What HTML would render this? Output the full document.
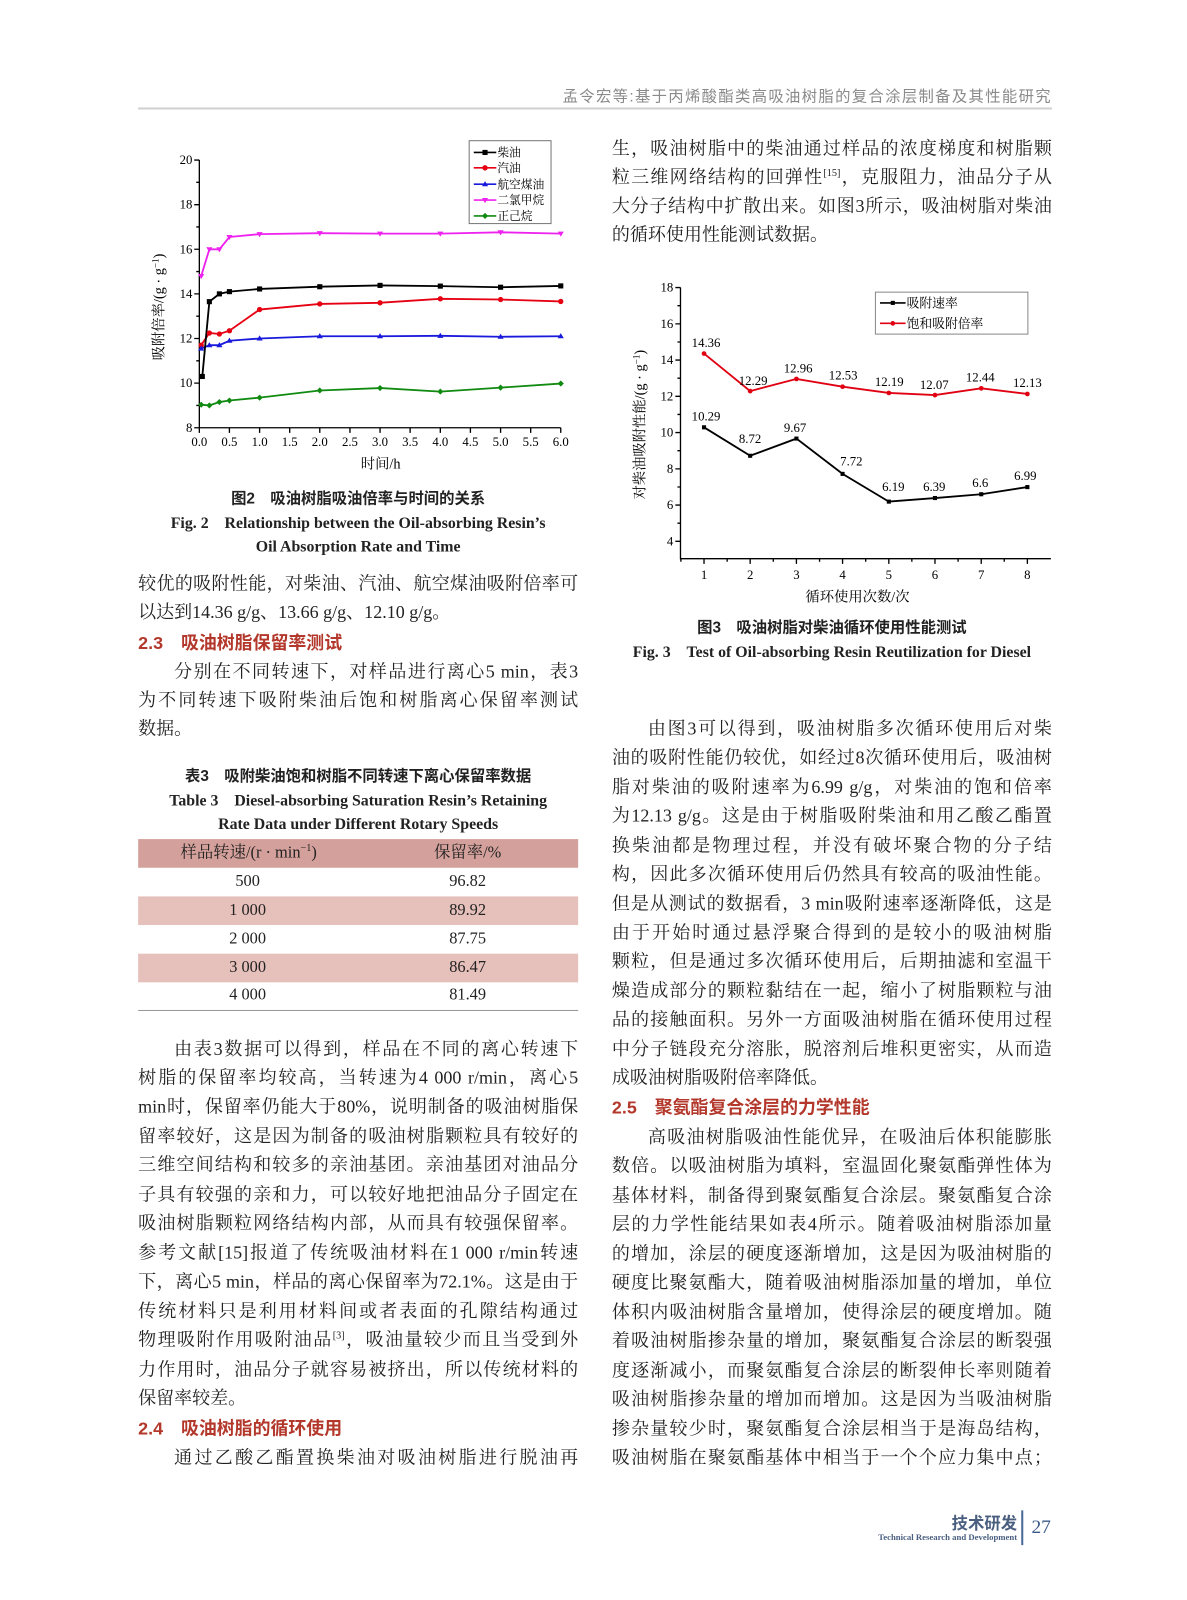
<!DOCTYPE html>
<html><head><meta charset="utf-8">
<style>
html,body{margin:0;padding:0;background:#fff;width:1187px;height:1600px;overflow:hidden}
#p{position:absolute;left:0;top:0;width:1160px;height:1564px;transform:scale(1.02328);transform-origin:0 0;font-family:"Liberation Serif","Noto Serif CJK SC",serif;color:#222}
.l{position:absolute;left:135px;width:430px;height:28px;line-height:28px;font-size:17.6px;text-align:justify;text-align-last:justify;overflow:hidden}
.r{left:598px}
.e{text-align-last:left}
.i{text-indent:2em}
.h{position:absolute;font-family:"Liberation Sans","Noto Sans CJK SC",sans-serif;color:#b3382b;font-size:17.5px;font-weight:bold;height:28px;line-height:28px}
.c{position:absolute;text-align:center;font-weight:bold;font-size:15.5px;line-height:22px;width:470px}
sup{font-size:10px;line-height:0}
.tr{position:absolute;left:135px;width:430px;height:28px;line-height:28px;font-size:16px}
.tr span{position:absolute;text-align:center;width:200px}
</style></head><body><div id="p">
<!-- header -->
<div style="position:absolute;right:132px;top:83px;font-family:'Liberation Sans','Noto Sans CJK SC',sans-serif;font-size:15px;color:#8a8a8a;letter-spacing:1.3px">孟令宏等:基于丙烯酸酯类高吸油树脂的复合涂层制备及其性能研究</div>
<div style="position:absolute;left:135px;top:105px;width:893px;height:1.5px;background:#d0d0d0"></div>

<svg style="position:absolute;left:0;top:0" width="1160" height="1564" font-family="Liberation Serif, Noto Serif CJK SC, serif">
<!-- Chart 1 -->
<g stroke="#000" stroke-width="1.3" fill="none">
<path d="M194.8 156.4V418H548"/>
<path d="M194.8 156.4h-5M194.8 200h-5M194.8 243.6h-5M194.8 287.2h-5M194.8 330.8h-5M194.8 374.4h-5M194.8 418h-5M194.8 178.2h-3M194.8 221.8h-3M194.8 265.4h-3M194.8 309h-3M194.8 352.6h-3M194.8 396.2h-3"/>
<path d="M194.8 418v5M224.2 418v5M253.7 418v5M283.1 418v5M312.5 418v5M342 418v5M371.4 418v5M400.8 418v5M430.3 418v5M459.7 418v5M489.2 418v5M518.6 418v5M548 418v5"/>
</g>
<g font-size="12.5" text-anchor="end">
<text x="188" y="160.5">20</text><text x="188" y="204">18</text><text x="188" y="247.6">16</text><text x="188" y="291.2">14</text><text x="188" y="334.8">12</text><text x="188" y="378.4">10</text><text x="188" y="422">8</text>
</g>
<g font-size="12.5" text-anchor="middle">
<text x="194.8" y="436">0.0</text><text x="224.2" y="436">0.5</text><text x="253.7" y="436">1.0</text><text x="283.1" y="436">1.5</text><text x="312.5" y="436">2.0</text><text x="342" y="436">2.5</text><text x="371.4" y="436">3.0</text><text x="400.8" y="436">3.5</text><text x="430.3" y="436">4.0</text><text x="459.7" y="436">4.5</text><text x="489.2" y="436">5.0</text><text x="518.6" y="436">5.5</text><text x="548" y="436">6.0</text>
<text x="372" y="458" font-size="14">时间/h</text>
<text transform="translate(160 300) rotate(-90)" font-size="14">吸附倍率/(g · g<tspan dy="-5" font-size="9">−1</tspan><tspan dy="5">)</tspan></text>
</g>
<g fill="none" stroke-width="1.8">
<polyline stroke="#e60012" points="196.6,337.3 204.6,325.4 214.4,326.4 224.2,323.2 253.7,302.5 312.5,297 371.4,295.9 430.3,292 489.2,292.7 548,294.6"/>
<polyline stroke="#1a1adc" points="196.6,340.6 204.6,337.3 214.4,337.3 224.2,333 253.7,330.8 312.5,328.6 371.4,328.6 430.3,328.2 489.2,329.1 548,328.6"/>
<polyline stroke="#ee22ee" points="196.6,269.8 204.6,243.6 214.4,243.6 224.2,231.6 253.7,228.8 312.5,227.9 371.4,228.3 430.3,228.3 489.2,227 548,228.3"/>
<polyline stroke="#108a10" points="196.6,395.5 204.6,396.2 214.4,392.9 224.2,391.4 253.7,388.6 312.5,381.6 371.4,379.2 430.3,382.7 489.2,378.8 548,374.8"/>
<polyline stroke="#000" points="197.7,367.9 204.6,294.8 214.4,287.2 224.2,285 253.7,282.4 312.5,280.2 371.4,278.9 430.3,279.6 489.2,280.7 548,279.4"/>
</g>
<g fill="#e60012"><circle cx="196.6" cy="337.3" r="2.6"/><circle cx="204.6" cy="325.4" r="2.6"/><circle cx="214.4" cy="326.4" r="2.6"/><circle cx="224.2" cy="323.2" r="2.6"/><circle cx="253.7" cy="302.5" r="2.6"/><circle cx="312.5" cy="297" r="2.6"/><circle cx="371.4" cy="295.9" r="2.6"/><circle cx="430.3" cy="292" r="2.6"/><circle cx="489.2" cy="292.7" r="2.6"/><circle cx="548" cy="294.6" r="2.6"/></g>
<g fill="#1a1adc"><path d="M196.6 337.6l3 5h-6zM204.6 334.3l3 5h-6zM214.4 334.3l3 5h-6zM224.2 330l3 5h-6zM253.7 327.8l3 5h-6zM312.5 325.6l3 5h-6zM371.4 325.6l3 5h-6zM430.3 325.2l3 5h-6zM489.2 326.1l3 5h-6zM548 325.6l3 5h-6z"/></g>
<g fill="#ee22ee"><path d="M196.6 272.8l3-5h-6zM204.6 246.6l3-5h-6zM214.4 246.6l3-5h-6zM224.2 234.6l3-5h-6zM253.7 231.8l3-5h-6zM312.5 230.9l3-5h-6zM371.4 231.3l3-5h-6zM430.3 231.3l3-5h-6zM489.2 230l3-5h-6zM548 231.3l3-5h-6z"/></g>
<g fill="#108a10"><path d="M196.6 392.5l3 3-3 3-3-3zM204.6 393.2l3 3-3 3-3-3zM214.4 389.9l3 3-3 3-3-3zM224.2 388.4l3 3-3 3-3-3zM253.7 385.6l3 3-3 3-3-3zM312.5 378.6l3 3-3 3-3-3zM371.4 376.2l3 3-3 3-3-3zM430.3 379.7l3 3-3 3-3-3zM489.2 375.8l3 3-3 3-3-3zM548 371.8l3 3-3 3-3-3z"/></g>
<g fill="#000"><rect x="195.2" y="365.4" width="5" height="5"/><rect x="202.1" y="292.3" width="5" height="5"/><rect x="211.9" y="284.7" width="5" height="5"/><rect x="221.7" y="282.5" width="5" height="5"/><rect x="251.2" y="279.9" width="5" height="5"/><rect x="310" y="277.7" width="5" height="5"/><rect x="368.9" y="276.4" width="5" height="5"/><rect x="427.8" y="277.1" width="5" height="5"/><rect x="486.7" y="278.2" width="5" height="5"/><rect x="545.5" y="276.9" width="5" height="5"/></g>
<!-- legend 1 -->
<rect x="458.5" y="137.5" width="80" height="81" fill="#fff" stroke="#777" stroke-width="1"/>
<g stroke-width="1.6"><path d="M463 149h22" stroke="#000"/><path d="M463 164h22" stroke="#e60012"/><path d="M463 180h22" stroke="#1a1adc"/><path d="M463 195.5h22" stroke="#ee22ee"/><path d="M463 211h22" stroke="#108a10"/></g>
<rect x="471.5" y="146.5" width="5" height="5"/><circle cx="474" cy="164" r="2.6" fill="#e60012"/><path d="M474 177l3 5h-6z" fill="#1a1adc"/><path d="M474 198.5l3-5h-6z" fill="#ee22ee"/><path d="M474 208l3 3-3 3-3-3z" fill="#108a10"/>
<g font-size="11.5"><text x="486" y="153">柴油</text><text x="486" y="168">汽油</text><text x="486" y="184">航空煤油</text><text x="486" y="199.5">二氯甲烷</text><text x="486" y="215">正己烷</text></g>

<!-- Chart 2 -->
<g stroke="#000" stroke-width="1.3" fill="none">
<path d="M665 281V546H1027"/>
<path d="M665 281h-5M665 316.5h-5M665 351.9h-5M665 387.3h-5M665 422.7h-5M665 458.2h-5M665 493.6h-5M665 529h-5M665 298.7h-3M665 334.2h-3M665 369.6h-3M665 405h-3M665 440.4h-3M665 475.9h-3M665 511.3h-3"/>
<path d="M688 546v5M733.1 546v5M778.3 546v5M823.4 546v5M868.6 546v5M913.7 546v5M958.9 546v5M1004 546v5M710.6 546v3M755.7 546v3M800.9 546v3M846 546v3M891.1 546v3M936.3 546v3M981.4 546v3M665.4 546v3"/>
</g>
<g font-size="12.5" text-anchor="end">
<text x="658" y="285">18</text><text x="658" y="320.5">16</text><text x="658" y="355.9">14</text><text x="658" y="391.3">12</text><text x="658" y="426.7">10</text><text x="658" y="462.2">8</text><text x="658" y="497.6">6</text><text x="658" y="533">4</text>
</g>
<g font-size="12.5" text-anchor="middle">
<text x="688" y="566">1</text><text x="733.1" y="566">2</text><text x="778.3" y="566">3</text><text x="823.4" y="566">4</text><text x="868.6" y="566">5</text><text x="913.7" y="566">6</text><text x="958.9" y="566">7</text><text x="1004" y="566">8</text>
<text x="838" y="588" font-size="14">循环使用次数/次</text>
<text transform="translate(630 415) rotate(-90)" font-size="14">对柴油吸附性能/(g · g<tspan dy="-5" font-size="9">−1</tspan><tspan dy="5">)</tspan></text>
</g>
<polyline fill="none" stroke="#e00012" stroke-width="1.8" points="688,345.5 733.1,382.2 778.3,370.3 823.4,377.9 868.6,384 913.7,386.1 958.9,379.5 1004,385"/>
<polyline fill="none" stroke="#000" stroke-width="1.8" points="688,417.6 733.1,445.4 778.3,428.6 823.4,463.1 868.6,490.2 913.7,486.7 958.9,483 1004,476"/>
<g fill="#e00012"><circle cx="688" cy="345.5" r="2.3"/><circle cx="733.1" cy="382.2" r="2.3"/><circle cx="778.3" cy="370.3" r="2.3"/><circle cx="823.4" cy="377.9" r="2.3"/><circle cx="868.6" cy="384" r="2.3"/><circle cx="913.7" cy="386.1" r="2.3"/><circle cx="958.9" cy="379.5" r="2.3"/><circle cx="1004" cy="385" r="2.3"/></g>
<g fill="#000"><rect x="686" y="415.6" width="4" height="4"/><rect x="731.1" y="443.4" width="4" height="4"/><rect x="776.3" y="426.6" width="4" height="4"/><rect x="821.4" y="461.1" width="4" height="4"/><rect x="866.6" y="488.2" width="4" height="4"/><rect x="911.7" y="484.7" width="4" height="4"/><rect x="956.9" y="481" width="4" height="4"/><rect x="1002" y="474" width="4" height="4"/></g>
<g font-size="12.5" text-anchor="middle">
<text x="690" y="339">14.36</text><text x="736" y="376">12.29</text><text x="780" y="364">12.96</text><text x="824" y="371">12.53</text><text x="869" y="377">12.19</text><text x="913" y="380">12.07</text><text x="958" y="373">12.44</text><text x="1004" y="378">12.13</text>
<text x="690" y="411">10.29</text><text x="733" y="433">8.72</text><text x="777" y="422">9.67</text><text x="832" y="455">7.72</text><text x="873" y="480">6.19</text><text x="913" y="480">6.39</text><text x="958" y="476">6.6</text><text x="1002" y="469">6.99</text>
</g>
<rect x="855.5" y="285.5" width="149" height="41" fill="#fff" stroke="#888" stroke-width="1"/>
<path d="M860 296h25" stroke="#000" stroke-width="1.6"/><rect x="870.5" y="294" width="4" height="4"/>
<path d="M860 316h25" stroke="#e00012" stroke-width="1.6"/><circle cx="872.5" cy="316" r="2.3" fill="#e00012"/>
<g font-size="12.5"><text x="886" y="300.5">吸附速率</text><text x="886" y="320.5">饱和吸附倍率</text></g>
</svg>

<!-- Fig 2 caption -->
<div class="c" style="left:115px;top:477px;font-family:'Liberation Sans','Noto Sans CJK SC',sans-serif;font-size:15px">图2　吸油树脂吸油倍率与时间的关系</div>
<div class="c" style="left:115px;top:501px">Fig. 2　Relationship between the Oil-absorbing Resin’s</div>
<div class="c" style="left:115px;top:524px">Oil Absorption Rate and Time</div>

<div class="l" style="top:556px">较优的吸附性能，对柴油、汽油、航空煤油吸附倍率可</div>
<div class="l e" style="top:584px">以达到14.36 g/g、13.66 g/g、12.10 g/g。</div>
<div class="h" style="left:135px;top:614px">2.3　吸油树脂保留率测试</div>
<div class="l i" style="top:642px">分别在不同转速下，对样品进行离心5 min，表3</div>
<div class="l" style="top:670px">为不同转速下吸附柴油后饱和树脂离心保留率测试</div>
<div class="l e" style="top:698px">数据。</div>

<!-- Table -->
<div class="c" style="left:115px;top:748px;font-family:'Liberation Sans','Noto Sans CJK SC',sans-serif;font-size:15px">表3　吸附柴油饱和树脂不同转速下离心保留率数据</div>
<div class="c" style="left:115px;top:772px">Table 3　Diesel-absorbing Saturation Resin’s Retaining</div>
<div class="c" style="left:115px;top:795px">Rate Data under Different Rotary Speeds</div>
<div style="position:absolute;left:135px;top:820px;width:430px;height:28px;background:#d4a09b"></div>
<div style="position:absolute;left:135px;top:876px;width:430px;height:28px;background:#e6c0bb"></div>
<div style="position:absolute;left:135px;top:932px;width:430px;height:28px;background:#e6c0bb"></div>
<div style="position:absolute;left:135px;top:987px;width:430px;height:1.2px;background:#999"></div>
<div class="tr" style="top:820px"><span style="left:108px;transform:translateX(-50%);width:auto;white-space:nowrap">样品转速/(r · min<sup>−1</sup>)</span><span style="left:222px">保留率/%</span></div>
<div class="tr" style="top:848px"><span style="left:7px">500</span><span style="left:222px">96.82</span></div>
<div class="tr" style="top:876px"><span style="left:7px">1 000</span><span style="left:222px">89.92</span></div>
<div class="tr" style="top:904px"><span style="left:7px">2 000</span><span style="left:222px">87.75</span></div>
<div class="tr" style="top:932px"><span style="left:7px">3 000</span><span style="left:222px">86.47</span></div>
<div class="tr" style="top:959px"><span style="left:7px">4 000</span><span style="left:222px">81.49</span></div>

<div class="l i" style="top:1011px">由表3数据可以得到，样品在不同的离心转速下</div>
<div class="l" style="top:1039px">树脂的保留率均较高，当转速为4 000 r/min，离心5</div>
<div class="l" style="top:1067px">min时，保留率仍能大于80%，说明制备的吸油树脂保</div>
<div class="l" style="top:1096px">留率较好，这是因为制备的吸油树脂颗粒具有较好的</div>
<div class="l" style="top:1124px">三维空间结构和较多的亲油基团。亲油基团对油品分</div>
<div class="l" style="top:1153px">子具有较强的亲和力，可以较好地把油品分子固定在</div>
<div class="l" style="top:1181px">吸油树脂颗粒网络结构内部，从而具有较强保留率。</div>
<div class="l" style="top:1210px">参考文献[15]报道了传统吸油材料在1 000 r/min转速</div>
<div class="l" style="top:1238px">下，离心5 min，样品的离心保留率为72.1%。这是由于</div>
<div class="l" style="top:1267px">传统材料只是利用材料间或者表面的孔隙结构通过</div>
<div class="l" style="top:1295px">物理吸附作用吸附油品<sup>[3]</sup>，吸油量较少而且当受到外</div>
<div class="l" style="top:1324px">力作用时，油品分子就容易被挤出，所以传统材料的</div>
<div class="l e" style="top:1352px">保留率较差。</div>
<div class="h" style="left:135px;top:1382px">2.4　吸油树脂的循环使用</div>
<div class="l i" style="top:1410px">通过乙酸乙酯置换柴油对吸油树脂进行脱油再</div>

<!-- right column -->
<div class="l r" style="top:131px">生，吸油树脂中的柴油通过样品的浓度梯度和树脂颗</div>
<div class="l r" style="top:159px">粒三维网络结构的回弹性<sup>[15]</sup>，克服阻力，油品分子从</div>
<div class="l r" style="top:187px">大分子结构中扩散出来。如图3所示，吸油树脂对柴油</div>
<div class="l r e" style="top:215px">的循环使用性能测试数据。</div>

<div class="c" style="left:578px;top:603px;font-family:'Liberation Sans','Noto Sans CJK SC',sans-serif;font-size:15px">图3　吸油树脂对柴油循环使用性能测试</div>
<div class="c" style="left:578px;top:627px">Fig. 3　Test of Oil-absorbing Resin Reutilization for Diesel</div>

<div class="l r i" style="top:698px">由图3可以得到，吸油树脂多次循环使用后对柴</div>
<div class="l r" style="top:726px">油的吸附性能仍较优，如经过8次循环使用后，吸油树</div>
<div class="l r" style="top:755px">脂对柴油的吸附速率为6.99 g/g，对柴油的饱和倍率</div>
<div class="l r" style="top:783px">为12.13 g/g。这是由于树脂吸附柴油和用乙酸乙酯置</div>
<div class="l r" style="top:812px">换柴油都是物理过程，并没有破坏聚合物的分子结</div>
<div class="l r" style="top:840px">构，因此多次循环使用后仍然具有较高的吸油性能。</div>
<div class="l r" style="top:869px">但是从测试的数据看，3 min吸附速率逐渐降低，这是</div>
<div class="l r" style="top:897px">由于开始时通过悬浮聚合得到的是较小的吸油树脂</div>
<div class="l r" style="top:925px">颗粒，但是通过多次循环使用后，后期抽滤和室温干</div>
<div class="l r" style="top:954px">燥造成部分的颗粒黏结在一起，缩小了树脂颗粒与油</div>
<div class="l r" style="top:982px">品的接触面积。另外一方面吸油树脂在循环使用过程</div>
<div class="l r" style="top:1011px">中分子链段充分溶胀，脱溶剂后堆积更密实，从而造</div>
<div class="l r e" style="top:1039px">成吸油树脂吸附倍率降低。</div>
<div class="h" style="left:598px;top:1068px">2.5　聚氨酯复合涂层的力学性能</div>
<div class="l r i" style="top:1097px">高吸油树脂吸油性能优异，在吸油后体积能膨胀</div>
<div class="l r" style="top:1125px">数倍。以吸油树脂为填料，室温固化聚氨酯弹性体为</div>
<div class="l r" style="top:1154px">基体材料，制备得到聚氨酯复合涂层。聚氨酯复合涂</div>
<div class="l r" style="top:1182px">层的力学性能结果如表4所示。随着吸油树脂添加量</div>
<div class="l r" style="top:1211px">的增加，涂层的硬度逐渐增加，这是因为吸油树脂的</div>
<div class="l r" style="top:1239px">硬度比聚氨酯大，随着吸油树脂添加量的增加，单位</div>
<div class="l r" style="top:1268px">体积内吸油树脂含量增加，使得涂层的硬度增加。随</div>
<div class="l r" style="top:1296px">着吸油树脂掺杂量的增加，聚氨酯复合涂层的断裂强</div>
<div class="l r" style="top:1325px">度逐渐减小，而聚氨酯复合涂层的断裂伸长率则随着</div>
<div class="l r" style="top:1353px">吸油树脂掺杂量的增加而增加。这是因为当吸油树脂</div>
<div class="l r" style="top:1382px">掺杂量较少时，聚氨酯复合涂层相当于是海岛结构，</div>
<div class="l r" style="top:1410px">吸油树脂在聚氨酯基体中相当于一个个应力集中点；</div>

<!-- footer -->
<div style="position:absolute;right:166px;top:1475px;font-family:'Liberation Sans','Noto Sans CJK SC',sans-serif;font-size:16px;font-weight:bold;color:#4a5f80">技术研发</div>
<div style="position:absolute;right:166px;top:1497px;font-size:8.5px;color:#4a5f80;font-weight:bold;white-space:nowrap">Technical Research and Development</div>
<div style="position:absolute;left:998px;top:1476px;width:2px;height:34px;background:#4a6a9a"></div>
<div style="position:absolute;left:1008px;top:1482px;font-size:19px;color:#3a5a8a">27</div>
</div></body></html>
